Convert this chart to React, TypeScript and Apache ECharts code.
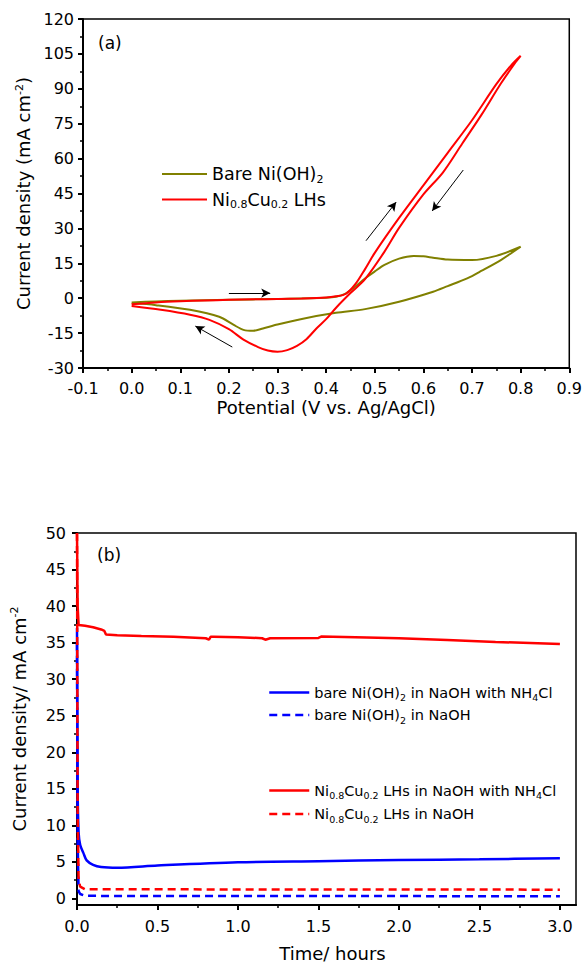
import React, { useEffect, useRef } from "react";
import * as echarts from "echarts";

const FONT = "'DejaVu Sans', sans-serif";
const OLIVE = "#808000";
const RED = "#ff0000";
const BLUE = "#0000ff";

// ---------- Panel (a): cyclic voltammetry ----------
const bareFwdV = [0, 0.05, 0.1, 0.2, 0.3, 0.4, 0.42, 0.44, 0.46, 0.48, 0.5, 0.52, 0.55, 0.58, 0.6, 0.62, 0.65, 0.7, 0.75, 0.8];
const bareFwdJ = [-1.8, -1.4, -1.1, -0.7, -0.3, 0.2, 0.6, 2.0, 5.0, 8.5, 11.5, 14.3, 17.0, 18.1, 18.0, 17.4, 16.6, 16.4, 18.2, 22.1];
const bareRevV = [0.8, 0.76, 0.72, 0.69, 0.65, 0.62, 0.55, 0.48, 0.42, 0.35, 0.3, 0.27, 0.25, 0.23, 0.21, 0.18, 0.12, 0.05, 0];
const bareRevJ = [22.1, 16.5, 11.8, 8.5, 5.2, 2.8, -1.5, -4.7, -6.3, -8.9, -11.3, -13.0, -14.0, -13.6, -11.5, -8.0, -5.0, -3.0, -2.0];

const niCuFwdV = [0, 0.05, 0.1, 0.15, 0.2, 0.25, 0.3, 0.35, 0.4, 0.42, 0.44, 0.46, 0.48, 0.5, 0.55, 0.6, 0.65, 0.7, 0.75, 0.78, 0.8];
const niCuFwdJ = [-2.6, -1.8, -1.3, -1.0, -0.7, -0.5, -0.3, -0.1, 0.3, 0.8, 1.8, 6.0, 12.5, 19.5, 34.5, 48.5, 62.5, 76.5, 92, 100, 104.2];
const niCuRevV = [0.8, 0.79, 0.76, 0.72, 0.68, 0.64, 0.6, 0.55, 0.52, 0.48, 0.45, 0.42, 0.4, 0.38, 0.36, 0.34, 0.32, 0.3, 0.28, 0.26, 0.23, 0.2, 0.16, 0.12, 0.06, 0];
const niCuRevJ = [104.2, 101.5, 92.5, 79, 66.5, 54, 44.6, 30.2, 20, 8.2, 2.2, -4.2, -9, -13, -17.5, -20.5, -22.3, -23, -22.5, -21, -17.8, -13.3, -9.3, -7.1, -5, -3.4];

// scan-direction arrows [from, to] in (V, mA cm-2)
const arrowsA = [
  [[0.2, 2.2], [0.285, 2.2]],
  [[0.207, -21], [0.131, -12]],
  [[0.482, 24.7], [0.544, 41.3]],
  [[0.682, 55.1], [0.618, 37.5]],
];

// ---------- Panel (b): chronoamperometry ----------
const redSolidT = [0, 0.004, 0.01, 0.05, 0.1, 0.15, 0.17, 0.18, 0.25, 0.4, 0.6, 0.8, 0.82, 0.83, 0.85, 1.0, 1.15, 1.17, 1.2, 1.5, 1.52, 1.8, 2.0, 2.3, 2.6, 3.0];
const redSolidJ = [50, 40, 37.4, 37.3, 37.1, 36.8, 36.6, 36.1, 36.0, 35.9, 35.8, 35.6, 35.4, 35.8, 35.8, 35.75, 35.6, 35.4, 35.6, 35.65, 35.85, 35.7, 35.6, 35.35, 35.1, 34.8];
const redDashT = [0, 0.004, 0.01, 0.02, 0.05, 3.0];
const redDashJ = [50, 12, 2.5, 1.6, 1.25, 1.2];
const blueSolidT = [0, 0.004, 0.01, 0.02, 0.04, 0.06, 0.1, 0.15, 0.25, 0.5, 1.0, 1.5, 2.0, 2.5, 3.0];
const blueSolidJ = [37, 15, 9, 7.3, 6.2, 5.2, 4.6, 4.3, 4.2, 4.5, 4.95, 5.1, 5.25, 5.35, 5.5];
const blueDashT = [0, 0.004, 0.01, 0.02, 0.05, 3.0];
const blueDashJ = [35, 8, 1.0, 0.6, 0.35, 0.3];

const timeTicks = [0, 0.5, 1.0, 1.5, 2.0, 2.5, 3.0];
const timeMinorTicks = [0.25, 0.75, 1.25, 1.75, 2.25, 2.75];
const densityTicksB = [0, 5, 10, 15, 20, 25, 30, 35, 40, 45, 50];
const densityMinorTicksB = [2.5, 7.5, 12.5, 17.5, 22.5, 27.5, 32.5, 37.5, 42.5, 47.5];

const NAME_BARE = "Bare Ni(OH)2";
const NAME_NICU = "Ni0.8Cu0.2 LHs";
const NAME_B1 = "bare Ni(OH)2 in NaOH with NH4Cl";
const NAME_B2 = "bare Ni(OH)2 in NaOH";
const NAME_B3 = "Ni0.8Cu0.2 LHs in NaOH with NH4Cl";
const NAME_B4 = "Ni0.8Cu0.2 LHs in NaOH";

const richLabels: Record<string, string> = {
  [NAME_BARE]: "{n|Bare Ni(OH)}{s|2}",
  [NAME_NICU]: "{n|Ni}{s|0.8}{n|Cu}{s|0.2}{n| LHs}",
  [NAME_B1]: "{n|bare Ni(OH)}{s|2}{n| in NaOH with NH}{s|4}{n|Cl}",
  [NAME_B2]: "{n|bare Ni(OH)}{s|2}{n| in NaOH}",
  [NAME_B3]: "{n|Ni}{s|0.8}{n|Cu}{s|0.2}{n| LHs in NaOH with NH}{s|4}{n|Cl}",
  [NAME_B4]: "{n|Ni}{s|0.8}{n|Cu}{s|0.2}{n| LHs in NaOH}",
};

const zip = (xs: number[], ys: number[]) => xs.map((x, i) => [x, ys[i]]);

function richSet(size: number, sub: number, lh: number) {
  return {
    n: { fontSize: size, fontFamily: FONT, color: "#000", lineHeight: lh },
    s: { fontSize: sub, fontFamily: FONT, color: "#000", lineHeight: sub, verticalAlign: "bottom" },
    p: { fontSize: sub, fontFamily: FONT, color: "#000", lineHeight: sub, verticalAlign: "top" },
  };
}

export default function App() {
  const ref = useRef<HTMLDivElement>(null);
  useEffect(() => {
    if (!ref.current) return;
    const chart = echarts.init(ref.current, null, { renderer: "svg" });
    const axisLine = { show: true, onZero: false, lineStyle: { color: "#000", width: 2 } };
    const labelStyle = { color: "#000", fontSize: 16, fontFamily: FONT };
    const nameStyle = { color: "#000", fontSize: 18, fontFamily: FONT };
    const legendCommon = { orient: "vertical", selectedMode: false, padding: 0, itemStyle: { opacity: 0 } };
    const option: any = {
      animation: false,
      backgroundColor: "#fff",
      grid: [
        { left: 83, top: 19, width: 487, height: 349, show: true, borderColor: "#000", borderWidth: 1.5, backgroundColor: "transparent" },
        { left: 77, top: 533, width: 499, height: 372, show: true, borderColor: "#000", borderWidth: 1.5, backgroundColor: "transparent" },
      ],
      xAxis: [
        {
          gridIndex: 0, type: "value", min: -0.1, max: 0.9, interval: 0.1,
          axisLine, splitLine: { show: false },
          axisTick: { show: true, length: 5, lineStyle: { color: "#000", width: 2 } },
          minorTick: { show: true, splitNumber: 2, length: 3, lineStyle: { color: "#000", width: 1.5 } },
          axisLabel: { ...labelStyle, margin: 12, formatter: (v: number) => (Math.round(v * 10) / 10).toFixed(1) },
          name: "Potential (V vs. Ag/AgCl)", nameLocation: "middle", nameGap: 30,
          nameTextStyle: nameStyle,
        },
        {
          gridIndex: 1, type: "value", min: 0, max: 3.1, position: "bottom",
          axisLine, splitLine: { show: false },
          axisTick: { show: true, length: 5, customValues: timeTicks, lineStyle: { color: "#000", width: 2 } },
          axisLabel: { ...labelStyle, margin: 13, customValues: timeTicks, formatter: (v: number) => v.toFixed(1) },
          name: "Time/ hours", nameLocation: "middle", nameGap: 39,
          nameTextStyle: { ...nameStyle, padding: [0, 0, 0, 12] },
        },
        {
          gridIndex: 1, type: "value", min: 0, max: 3.1, position: "bottom",
          axisLine: { show: false, onZero: false }, splitLine: { show: false }, axisLabel: { show: false },
          axisTick: { show: true, length: 3, customValues: timeMinorTicks, lineStyle: { color: "#000", width: 1.5 } },
        },
      ],
      yAxis: [
        {
          gridIndex: 0, type: "value", min: -30, max: 120, interval: 15,
          axisLine, splitLine: { show: false },
          axisTick: { show: true, length: 5, lineStyle: { color: "#000", width: 2 } },
          minorTick: { show: true, splitNumber: 2, length: 3, lineStyle: { color: "#000", width: 1.5 } },
          axisLabel: { ...labelStyle, margin: 9 },
          name: "{n|Current density (mA cm}{p|-2}{n|)}", nameLocation: "middle", nameGap: 44,
          nameTextStyle: { rich: richSet(18, 11, 20) },
        },
        {
          gridIndex: 1, type: "value", min: -0.9, max: 50,
          axisLine, splitLine: { show: false },
          axisTick: { show: true, length: 5, customValues: densityTicksB, lineStyle: { color: "#000", width: 2 } },
          axisLabel: { ...labelStyle, margin: 11, customValues: densityTicksB },
          name: "{n|Current density/ mA cm}{p|-2}", nameLocation: "middle", nameGap: 48,
          nameTextStyle: { rich: richSet(18, 11, 20) },
        },
        {
          gridIndex: 1, type: "value", min: -0.9, max: 50, position: "left",
          axisLine: { show: false, onZero: false }, splitLine: { show: false }, axisLabel: { show: false },
          axisTick: { show: true, length: 3, customValues: densityMinorTicksB, lineStyle: { color: "#000", width: 1.5 } },
        },
      ],
      legend: [
        {
          ...legendCommon,
          data: [NAME_BARE, NAME_NICU], left: 161, top: 165,
          itemWidth: 45, itemHeight: 14, itemGap: 6,
          lineStyle: { width: 2 },
          formatter: (n: string) => richLabels[n],
          textStyle: { rich: richSet(17.5, 11, 21) },
        },
        {
          ...legendCommon,
          data: [NAME_B1, NAME_B2], left: 268, top: 685,
          itemWidth: 40, itemHeight: 14, itemGap: 5,
          lineStyle: { width: 2.5 },
          formatter: (n: string) => richLabels[n],
          textStyle: { rich: richSet(14.5, 9.5, 20) },
        },
        {
          ...legendCommon,
          data: [NAME_B3, NAME_B4], left: 268, top: 783,
          itemWidth: 40, itemHeight: 14, itemGap: 6,
          lineStyle: { width: 2.5 },
          formatter: (n: string) => richLabels[n],
          textStyle: { rich: richSet(14.5, 9.5, 20) },
        },
      ],
      graphic: [
        { type: "text", left: 98, top: 34, style: { text: "(a)", fill: "#000", font: `17px ${FONT}` } },
        { type: "text", left: 97, top: 546, style: { text: "(b)", fill: "#000", font: `17px ${FONT}` } },
      ],
      series: [
        {
          name: NAME_BARE, type: "line", xAxisIndex: 0, yAxisIndex: 0,
          data: [...zip(bareFwdV, bareFwdJ), ...zip(bareRevV, bareRevJ)],
          symbol: "none", showSymbol: false, smooth: 0.3,
          lineStyle: { color: OLIVE, width: 2 }, itemStyle: { color: OLIVE },
          markLine: {
            silent: true, symbol: ["none", "arrow"], symbolSize: [7, 9],
            lineStyle: { color: "#000", width: 1, type: "solid" }, label: { show: false },
            emphasis: { disabled: true },
            data: arrowsA.map(([a, b]) => [{ coord: a }, { coord: b }]),
          },
        },
        {
          name: NAME_NICU, type: "line", xAxisIndex: 0, yAxisIndex: 0,
          data: [...zip(niCuFwdV, niCuFwdJ), ...zip(niCuRevV, niCuRevJ)],
          symbol: "none", showSymbol: false, smooth: 0.3,
          lineStyle: { color: RED, width: 2 }, itemStyle: { color: RED },
        },
        {
          name: NAME_B1, type: "line", xAxisIndex: 1, yAxisIndex: 1,
          data: zip(blueSolidT, blueSolidJ), symbol: "none", showSymbol: false, smooth: 0.3,
          lineStyle: { color: BLUE, width: 2.5 }, itemStyle: { color: BLUE },
        },
        {
          name: NAME_B2, type: "line", xAxisIndex: 1, yAxisIndex: 1,
          data: zip(blueDashT, blueDashJ), symbol: "none", showSymbol: false,
          lineStyle: { color: BLUE, width: 2.5, type: [8, 5] }, itemStyle: { color: BLUE },
        },
        {
          name: NAME_B3, type: "line", xAxisIndex: 1, yAxisIndex: 1,
          data: zip(redSolidT, redSolidJ), symbol: "none", showSymbol: false,
          lineStyle: { color: RED, width: 2.5 }, itemStyle: { color: RED },
        },
        {
          name: NAME_B4, type: "line", xAxisIndex: 1, yAxisIndex: 1,
          data: zip(redDashT, redDashJ), symbol: "none", showSymbol: false,
          lineStyle: { color: RED, width: 2.5, type: [8, 5] }, itemStyle: { color: RED },
        },
      ],
    };
    chart.setOption(option);
    return () => chart.dispose();
  }, []);
  return <div ref={ref} style={{ position: "absolute", left: 0, top: 0, width: 585, height: 964 }} />;
}
